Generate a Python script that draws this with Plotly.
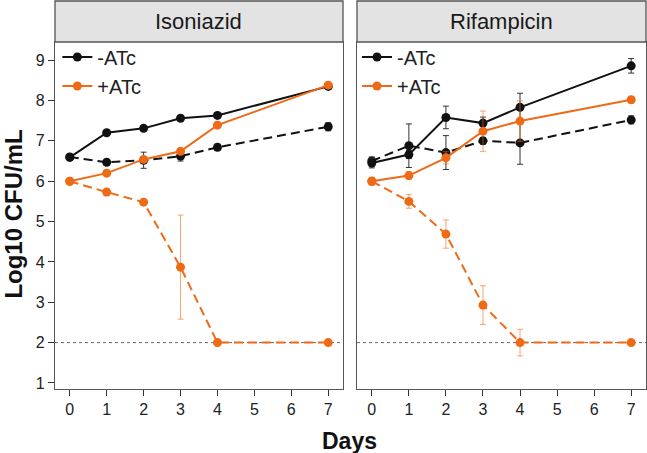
import plotly.graph_objects as go

days = [0, 1, 2, 3, 4, 7]

# Isoniazid panel
inh_minus_ctrl = [6.59, 7.20, 7.31, 7.56, 7.63, 8.35]
inh_minus_ctrl_err = [0.05, 0.05, 0.05, 0.05, 0.05, 0.06]
inh_minus_drug = [6.60, 6.47, 6.52, 6.62, 6.84, 7.35]
inh_minus_drug_err = [0.05, 0.04, 0.20, 0.12, 0.08, 0.10]
inh_plus_ctrl = [6.00, 6.20, 6.54, 6.74, 7.39, 8.38]
inh_plus_ctrl_err = [0.04, 0.05, 0.05, 0.06, 0.06, 0.04]
inh_plus_drug = [6.00, 5.73, 5.48, 3.87, 2.00, 2.00]
inh_plus_drug_err = [0.04, 0.09, 0.04, 1.29, 0.02, 0.02]

# Rifampicin panel
rif_minus_ctrl = [6.45, 6.66, 7.58, 7.44, 7.83, 8.86]
rif_minus_ctrl_err = [0.12, 0.10, 0.28, 0.15, 0.35, 0.18]
rif_minus_drug = [6.50, 6.88, 6.71, 7.00, 6.95, 7.52]
rif_minus_drug_err = [0.10, 0.54, 0.42, 0.08, 0.53, 0.10]
rif_plus_ctrl = [6.00, 6.14, 6.58, 7.24, 7.49, 8.02]
rif_plus_ctrl_err = [0.10, 0.10, 0.15, 0.50, 0.50, 0.08]
rif_plus_drug = [6.00, 5.50, 4.69, 2.93, 2.00, 2.00]
rif_plus_drug_err = [0.08, 0.17, 0.35, 0.48, 0.33, 0.02]

panel_titles = ["Isoniazid", "Rifampicin"]
legend_names = ["-ATc", "+ATc"]
detection_limit = 2

BLACK = "#111111"
ORANGE = "#EE6A17"
BLACK_ERR = "#333333"
ORANGE_ERR = "rgba(238,106,23,0.6)"
FONT = "Liberation Sans, Arial, sans-serif"

fig = go.Figure()

def add(xa, ya, y, err, color, ecolor, dash, name=None, legend=None):
    fig.add_trace(go.Scatter(
        x=days, y=y, xaxis=xa, yaxis=ya,
        mode="lines+markers",
        line=dict(color=color, width=2, dash=dash),
        marker=dict(color=color, size=9),
        error_y=dict(type="data", array=err, color=ecolor, thickness=1, width=3),
        name=name if name else "",
        showlegend=name is not None,
        legend=legend if legend else "legend",
    ))

panels = [
    ("x", "y", inh_minus_ctrl, inh_minus_ctrl_err, inh_minus_drug, inh_minus_drug_err,
     inh_plus_ctrl, inh_plus_ctrl_err, inh_plus_drug, inh_plus_drug_err, "legend"),
    ("x2", "y2", rif_minus_ctrl, rif_minus_ctrl_err, rif_minus_drug, rif_minus_drug_err,
     rif_plus_ctrl, rif_plus_ctrl_err, rif_plus_drug, rif_plus_drug_err, "legend2"),
]

for xa, ya, mc, mce, md, mde, pc, pce, pd_, pde, lg in panels:
    add(xa, ya, md, mde, BLACK, BLACK_ERR, "9px,5px")
    add(xa, ya, mc, mce, BLACK, BLACK_ERR, "solid", legend_names[0], lg)
    add(xa, ya, pd_, pde, ORANGE, ORANGE_ERR, "9px,5px")
    add(xa, ya, pc, pce, ORANGE, ORANGE_ERR, "solid", legend_names[1], lg)

axis_common = dict(
    showline=True, linecolor="#555555", linewidth=1.3, mirror=True,
    showgrid=False, zeroline=False,
    ticks="outside", ticklen=6, tickcolor="#333333", tickwidth=1.3,
    tickfont=dict(family=FONT, size=16, color="#222222"),
)

fig.update_layout(
    width=647, height=453,
    margin=dict(l=55, r=1, t=1, b=64),
    plot_bgcolor="white", paper_bgcolor="white",
    font=dict(family=FONT),
    xaxis=dict(domain=[0, 0.4873], range=[-0.4, 7.4], tickvals=list(range(8)), **axis_common),
    xaxis2=dict(domain=[0.511, 1.0], range=[-0.4, 7.4], tickvals=list(range(8)), **axis_common),
    yaxis=dict(domain=[0, 0.8943], range=[0.85, 9.45], tickvals=list(range(1, 10)), anchor="x", **axis_common),
    yaxis2=dict(domain=[0, 0.8943], range=[0.85, 9.45], tickvals=list(range(1, 10)), anchor="x2",
                **{**axis_common, "ticks": "", "showticklabels": False}),
    legend=dict(x=0.004, y=0.906, xanchor="left", yanchor="top", bgcolor="rgba(0,0,0,0)",
                font=dict(family=FONT, size=20, color="#222222"), tracegroupgap=0, itemwidth=30),
    legend2=dict(x=0.511, y=0.906, xanchor="left", yanchor="top", bgcolor="rgba(0,0,0,0)",
                 font=dict(family=FONT, size=20, color="#222222"), tracegroupgap=0, itemwidth=30),
)

# detection limit lines
for xr in ["x", "x2"]:
    fig.add_shape(type="line", xref=f"{xr} domain", yref=xr.replace("x", "y"),
                  x0=0, x1=1, y0=detection_limit, y1=detection_limit,
                  line=dict(color="#666666", width=1, dash="3px,3px"), layer="below")

# strips
for (x0, x1), title in zip([(0, 0.4873), (0.511, 1.0)], panel_titles):
    fig.add_shape(type="rect", xref="paper", yref="paper", x0=x0, x1=x1, y0=0.8943, y1=1.0,
                  fillcolor="#E3E3E3", line=dict(color="#555555", width=1.3))
    fig.add_annotation(xref="paper", yref="paper", x=(x0 + x1) / 2, y=0.947, text=title,
                       showarrow=False, font=dict(family=FONT, size=22, color="#1a1a1a"),
                       xanchor="center", yanchor="middle")

fig.add_annotation(xref="paper", yref="paper", x=0.499, y=-0.133, text="<b>Days</b>",
                   showarrow=False, font=dict(family=FONT, size=23, color="#111111"),
                   xanchor="center", yanchor="middle")
fig.add_annotation(xref="paper", yref="paper", x=-0.0694, y=0.452, text="<b>Log10 CFU/mL</b>",
                   showarrow=False, textangle=-90, font=dict(family=FONT, size=24, color="#111111"),
                   xanchor="center", yanchor="middle")

fig.write_html("out.html", config={"displayModeBar": False},
               post_script="document.body.style.margin='0';document.body.style.overflow='hidden';")
